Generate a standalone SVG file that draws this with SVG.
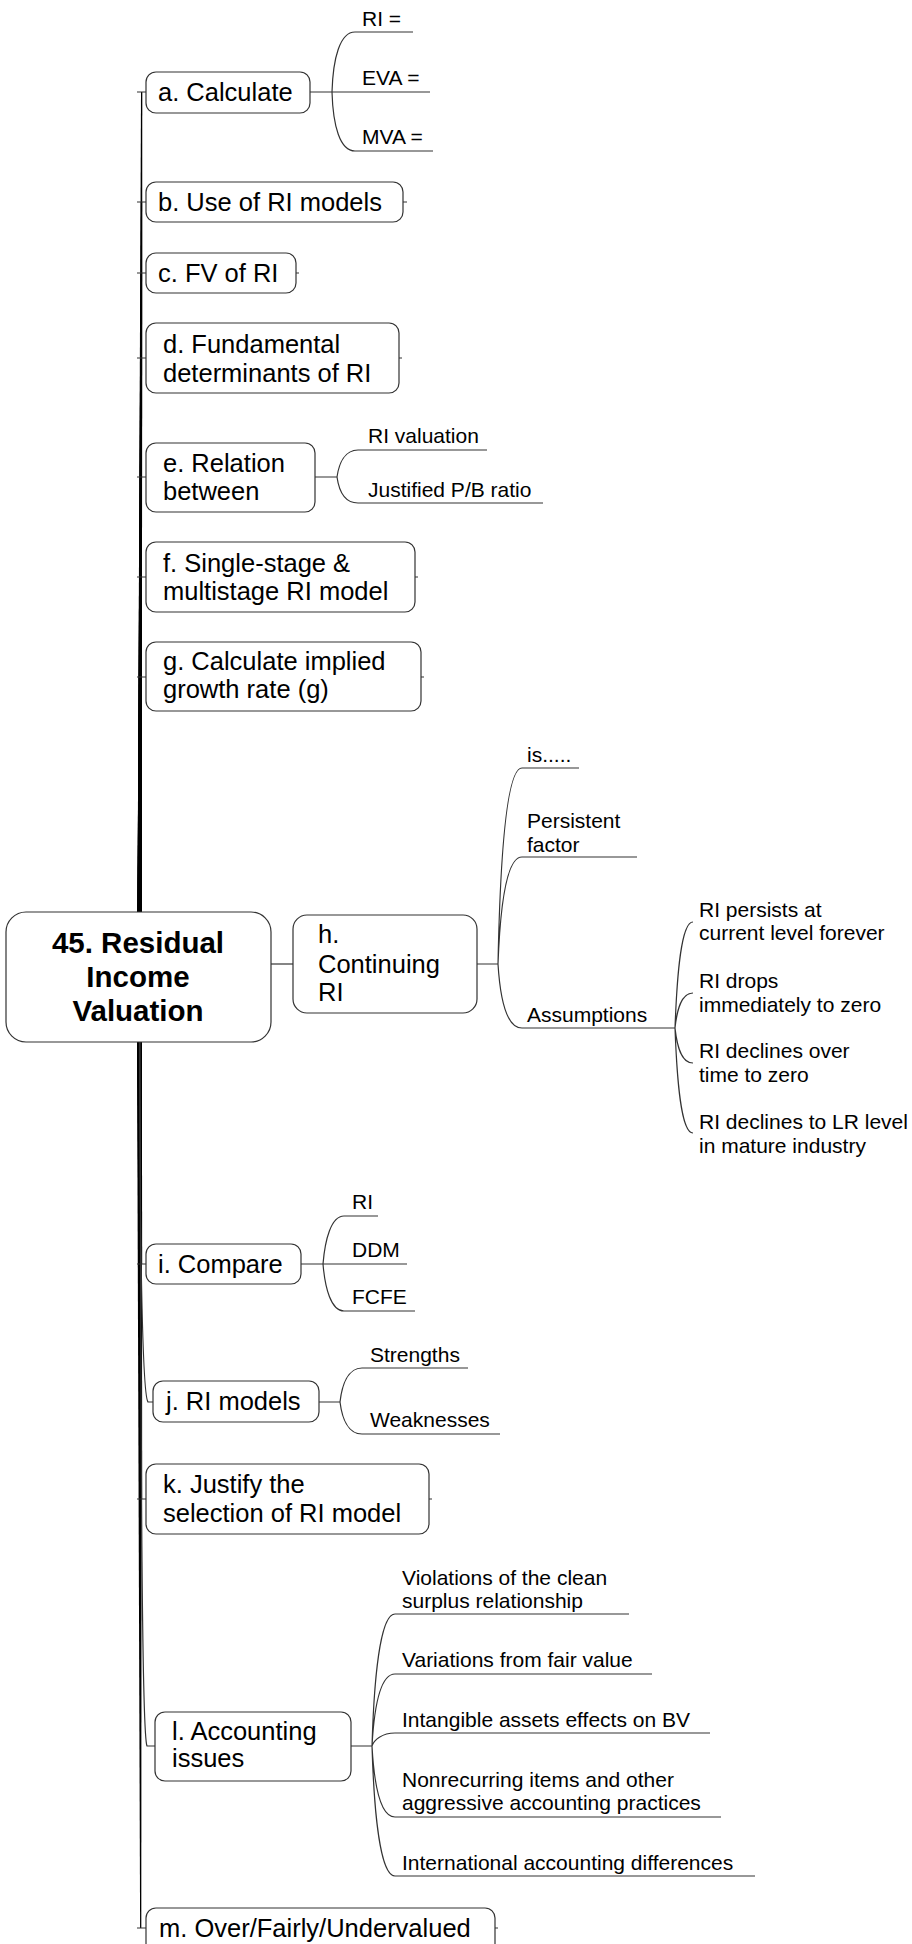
<svg xmlns="http://www.w3.org/2000/svg" width="912" height="1944" viewBox="0 0 912 1944">
<style>
.box{fill:#fff;stroke:#333;stroke-width:1.2}
.t{font-family:"Liberation Sans",Arial,sans-serif;font-size:25.5px;fill:#000}
.s{font-size:21px}
.root{font-weight:bold;font-size:29.5px;text-anchor:middle}
.ln{fill:none;stroke:#333;stroke-width:1.2}
.br{fill:#000;stroke:none}
</style>
<rect width="912" height="1944" fill="#fff"/>
<g id="connectors">
  <!-- trunk branches above root -->
  <path class="br" d="M137.5 912 L141.8 912 L142.3 92 L141 92 Z"/>
  <path class="br" d="M137.5 912 L141.8 912 L142.2 202 L140.8 202 Z"/>
  <path class="br" d="M137.5 912 L141.8 912 L142.1 273 L140.6 273 Z"/>
  <path class="br" d="M137.5 912 L141.8 912 L142 358 L140.4 358 Z"/>
  <path class="br" d="M137.5 912 L141.8 912 L141.9 477 L140.2 477 Z"/>
  <path class="br" d="M137.5 912 L141.8 912 L141.8 577 L140 577 Z"/>
  <path class="br" d="M137.5 912 L141.8 912 L141.7 677 L139.8 677 Z"/>
  <!-- trunk branches below root -->
  <path class="br" d="M137 1042 L141.8 1042 L142.2 1264 L140.2 1264 Z"/>
  <path class="br" d="M137 1042 L141.8 1042 L142.2 1499 L140.4 1499 Z"/>
  <path class="br" d="M137 1042 L141.8 1042 L141.3 1928 L140.1 1928 Z"/>
  <path class="ln" stroke="#000" stroke-width="1.6" d="M139.5 1042 C140 1250 142 1395 148 1402 L153 1402"/>
  <path class="ln" stroke="#000" stroke-width="1.6" d="M140 1042 C141 1500 142 1735 147 1746 L155 1746"/>
  <!-- left ticks -->
  <path class="ln" d="M137 92H146M137 202H146M137 273H146M137 358H146M137 477H146M137 577H146M137 677H146M137 1264H146M137 1499H146M137 1928H146"/>
  <!-- right ticks -->
  <path class="ln" d="M403 202H407M296 273H299M399 358H402M415 577H418M421 677H424M429 1499H432M495 1928H498"/>
  <!-- root to h -->
  <path class="ln" stroke-width="1.5" d="M271 964H293"/>
  <!-- a children -->
  <path class="ln" d="M310 92H430M332 92 C333 58 340 32 355 32 H413M332 92 C333 126 340 151 355 151 H433"/>
  <!-- e children -->
  <path class="ln" d="M315 477H337M337 477 C339 463 345 450 358 450 H487M337 477 C339 491 345 503 358 503 H543"/>
  <!-- h children -->
  <path class="ln" d="M477 964H498M498 964 C500 866 506 768 522 768 H579M498 964 C500 911 506 857 522 857 H637M498 964 C500 996 506 1028 522 1028 H675"/>
  <!-- Assumptions children -->
  <path class="ln" d="M675 1028 C677 975 681 922 693 922M675 1028 C677 1010 681 993 693 993M675 1028 C677 1046 681 1063 693 1063M675 1028 C677 1081 681 1133 693 1133"/>
  <!-- i children -->
  <path class="ln" d="M301 1264H407M323 1264 C325 1240 331 1216 344 1216 H378M323 1264 C325 1288 331 1311 344 1311 H415"/>
  <!-- j children -->
  <path class="ln" d="M319 1402H340M340 1402 C342 1385 348 1368 362 1368 H468M340 1402 C342 1418 348 1434 362 1434 H500"/>
  <!-- l children -->
  <path class="ln" d="M351 1746H372M372 1746 C374 1680 380 1614 395 1614 H629M372 1746 C374 1710 380 1674 395 1674 H652M372 1746 C374 1740 382 1733 395 1733 H710M372 1746 C374 1782 380 1817 395 1817 H721M372 1746 C374 1811 380 1876 395 1876 H755"/>
</g>
<g id="root">
  <rect class="box" x="6" y="912" width="265" height="130" rx="20"/>
  <text class="t root" x="138" y="953">45. Residual</text>
  <text class="t root" x="138" y="987">Income</text>
  <text class="t root" x="138" y="1021">Valuation</text>
</g>
<g id="a">
  <rect class="box" x="146" y="72" width="164" height="41" rx="10"/>
  <text class="t" x="158" y="101">a. Calculate</text>
</g>
<g id="a1"><text class="t s" x="362" y="26">RI =</text></g>
<g id="a2"><text class="t s" x="362" y="85">EVA =</text></g>
<g id="a3"><text class="t s" x="362" y="144">MVA =</text></g>
<g id="b">
  <rect class="box" x="146" y="182" width="257" height="40" rx="10"/>
  <text class="t" x="158" y="211">b. Use of RI models</text>
</g>
<g id="c">
  <rect class="box" x="146" y="253" width="150" height="40" rx="10"/>
  <text class="t" x="158" y="282">c. FV of RI</text>
</g>
<g id="d">
  <rect class="box" x="146" y="323" width="253" height="70" rx="10"/>
  <text class="t" x="163" y="353">d. Fundamental</text>
  <text class="t" x="163" y="382">determinants of RI</text>
</g>
<g id="e">
  <rect class="box" x="146" y="443" width="169" height="69" rx="10"/>
  <text class="t" x="163" y="472">e. Relation</text>
  <text class="t" x="163" y="500">between</text>
</g>
<g id="e1"><text class="t s" x="368" y="443">RI valuation</text></g>
<g id="e2"><text class="t s" x="368" y="497">Justified P/B ratio</text></g>
<g id="f">
  <rect class="box" x="146" y="542" width="269" height="70" rx="10"/>
  <text class="t" x="163" y="572">f. Single-stage &amp;</text>
  <text class="t" x="163" y="600">multistage RI model</text>
</g>
<g id="g">
  <rect class="box" x="146" y="642" width="275" height="69" rx="10"/>
  <text class="t" x="163" y="670">g. Calculate implied</text>
  <text class="t" x="163" y="698">growth rate (g)</text>
</g>
<g id="h">
  <rect class="box" x="293" y="915" width="184" height="98" rx="14"/>
  <text class="t" x="318" y="943">h.</text>
  <text class="t" x="318" y="973">Continuing</text>
  <text class="t" x="318" y="1001">RI</text>
</g>
<g id="h1"><text class="t s" x="527" y="762">is.....</text></g>
<g id="h2"><text class="t s" x="527" y="828">Persistent</text><text class="t s" x="527" y="852">factor</text></g>
<g id="h3"><text class="t s" x="527" y="1022">Assumptions</text></g>
<g id="h3a"><text class="t s" x="699" y="917">RI persists at</text><text class="t s" x="699" y="940">current level forever</text></g>
<g id="h3b"><text class="t s" x="699" y="988">RI drops</text><text class="t s" x="699" y="1012">immediately to zero</text></g>
<g id="h3c"><text class="t s" x="699" y="1058">RI declines over</text><text class="t s" x="699" y="1082">time to zero</text></g>
<g id="h3d"><text class="t s" x="699" y="1129">RI declines to LR level</text><text class="t s" x="699" y="1153">in mature industry</text></g>
<g id="i">
  <rect class="box" x="146" y="1244" width="155" height="40" rx="10"/>
  <text class="t" x="158" y="1273">i. Compare</text>
</g>
<g id="i1"><text class="t s" x="352" y="1209">RI</text></g>
<g id="i2"><text class="t s" x="352" y="1257">DDM</text></g>
<g id="i3"><text class="t s" x="352" y="1304">FCFE</text></g>
<g id="j">
  <rect class="box" x="153" y="1381" width="166" height="41" rx="10"/>
  <text class="t" x="166" y="1410">j. RI models</text>
</g>
<g id="j1"><text class="t s" x="370" y="1362">Strengths</text></g>
<g id="j2"><text class="t s" x="370" y="1427">Weaknesses</text></g>
<g id="k">
  <rect class="box" x="146" y="1464" width="283" height="70" rx="10"/>
  <text class="t" x="163" y="1493">k. Justify the</text>
  <text class="t" x="163" y="1522">selection of RI model</text>
</g>
<g id="l">
  <rect class="box" x="155" y="1712" width="196" height="69" rx="10"/>
  <text class="t" x="172" y="1740">l. Accounting</text>
  <text class="t" x="172" y="1767">issues</text>
</g>
<g id="l1"><text class="t s" x="402" y="1585">Violations of the clean</text><text class="t s" x="402" y="1608">surplus relationship</text></g>
<g id="l2"><text class="t s" x="402" y="1667">Variations from fair value</text></g>
<g id="l3"><text class="t s" x="402" y="1727">Intangible assets effects on BV</text></g>
<g id="l4"><text class="t s" x="402" y="1787">Nonrecurring items and other</text><text class="t s" x="402" y="1810">aggressive accounting practices</text></g>
<g id="l5"><text class="t s" x="402" y="1870">International accounting differences</text></g>
<g id="m">
  <rect class="box" x="146" y="1908" width="349" height="60" rx="10"/>
  <text class="t" x="159" y="1937">m. Over/Fairly/Undervalued</text>
</g>
</svg>
